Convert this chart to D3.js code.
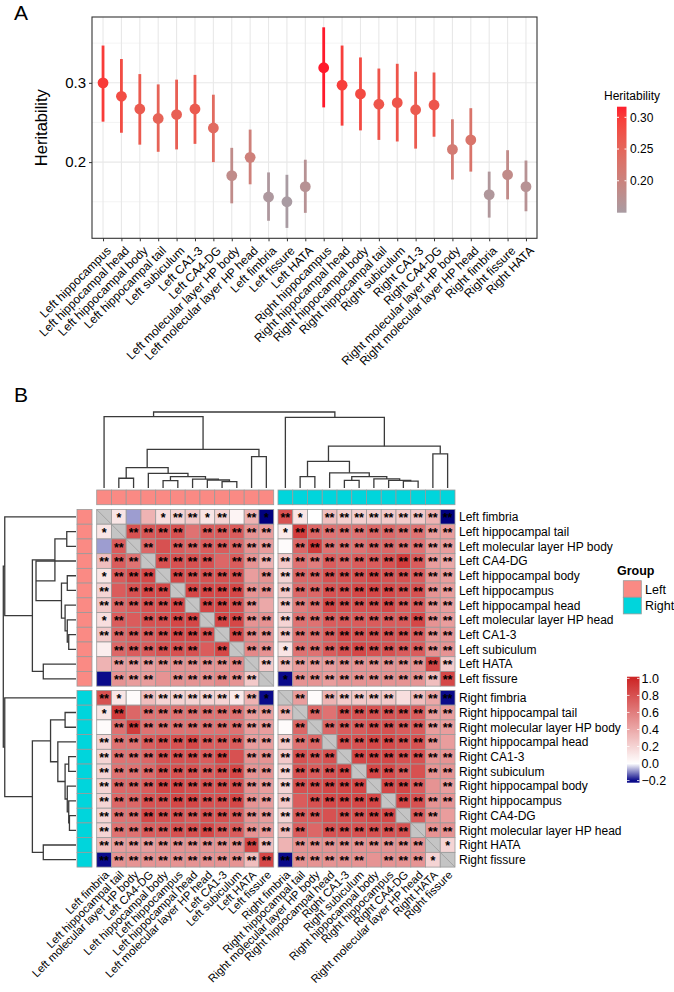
<!DOCTYPE html>
<html><head><meta charset="utf-8">
<script src="https://cdn.jsdelivr.net/npm/d3@7"></script>
<style>body{margin:0;background:#fff;} svg{font-family:Arial,"Liberation Sans",sans-serif;}</style>
</head><body><svg id="c" width="674" height="992"></svg>
<script>
// ---------------- Panel A data ----------------
const regions = ["Left hippocampus","Left hippocampal head","Left hippocampal body","Left hippocampal tail","Left subiculum","Left CA1-3","Left CA4-DG","Left molecular layer HP body","Left molecular layer HP head","Left fimbria","Left fissure","Left HATA","Right hippocampus","Right hippocampal head","Right hippocampal body","Right hippocampal tail","Right subiculum","Right CA1-3","Right CA4-DG","Right molecular layer HP body","Right molecular layer HP head","Right fimbria","Right fissure","Right HATA"];
const heritability = [0.300,0.283,0.267,0.255,0.260,0.267,0.243,0.183,0.206,0.156,0.150,0.169,0.319,0.297,0.286,0.273,0.275,0.266,0.272,0.216,0.228,0.159,0.184,0.169];
const ciLow  = [0.251,0.237,0.222,0.213,0.216,0.223,0.200,0.148,0.172,0.126,0.117,0.136,0.269,0.246,0.240,0.228,0.226,0.217,0.232,0.178,0.188,0.130,0.153,0.138];
const ciHigh = [0.347,0.330,0.311,0.298,0.304,0.310,0.285,0.218,0.241,0.187,0.184,0.203,0.370,0.347,0.332,0.318,0.324,0.314,0.313,0.254,0.268,0.188,0.215,0.202];
const yTicksA = [0.2,0.3];
const legendTicksA = [0.20,0.25,0.30];

// ---------------- Panel B data ----------------
const hmNames = ["Left fimbria","Left hippocampal tail","Left molecular layer HP body","Left CA4-DG","Left hippocampal body","Left hippocampus","Left hippocampal head","Left molecular layer HP head","Left CA1-3","Left subiculum","Left HATA","Left fissure","Right fimbria","Right hippocampal tail","Right molecular layer HP body","Right hippocampal head","Right CA1-3","Right subiculum","Right hippocampal body","Right hippocampus","Right CA4-DG","Right molecular layer HP head","Right HATA","Right fissure"];
const groups = ["Left","Right"];
const corr = [
[null,.12,-.08,.35,.15,.2,.25,.12,.2,.05,.35,-.22, .8,.12,0,.3,.22,.22,.22,.25,.25,.25,.35,-.22],
[.12,null,.8,.78,.8,.8,.65,.75,.75,.75,.5,.45, .1,.9,.7,.65,.65,.65,.7,.7,.65,.65,.45,.45],
[-.08,.75,null,.7,.8,.75,.7,.75,.75,.7,.5,.45, .02,.7,.9,.65,.65,.65,.7,.7,.65,.65,.45,.45],
[.3,.75,.65,null,.8,.8,.8,.8,.7,.75,.5,.35, .25,.65,.6,.75,.7,.75,.75,.8,.9,.75,.45,.4],
[.12,.75,.85,.85,null,.85,.8,.8,.8,.8,.45,.5, .2,.7,.7,.8,.8,.8,.85,.8,.8,.75,.5,.45],
[.2,.75,.8,.85,.85,null,.85,.85,.85,.85,.5,.5, .25,.7,.7,.8,.8,.85,.85,.85,.8,.8,.5,.45],
[.25,.7,.75,.8,.8,.85,null,.85,.85,.8,.5,.4, .25,.6,.65,.85,.8,.8,.8,.85,.75,.75,.5,.45],
[.15,.75,.75,.8,.8,.85,.85,null,.85,.85,.5,.5, .2,.65,.65,.75,.75,.75,.75,.75,.75,.85,.5,.45],
[.25,.7,.75,.75,.8,.85,.85,.8,null,.85,.55,.5, .25,.65,.65,.75,.85,.8,.8,.8,.8,.75,.5,.5],
[.08,.7,.75,.75,.8,.8,.8,.75,.85,null,.55,.5, .12,.65,.65,.75,.8,.85,.8,.8,.75,.75,.5,.5],
[.35,.45,.45,.45,.5,.5,.5,.5,.5,.55,null,.25, .3,.45,.45,.45,.5,.5,.5,.5,.5,.5,.85,.25],
[-.2,.5,.45,.45,.5,.5,.5,.5,.55,.5,.25,null, -.2,.5,.5,.45,.5,.5,.5,.5,.5,.5,.3,.85],
[.8,.12,.02,.3,.2,.2,.2,.2,.2,.1,.35,-.2, null,.45,.02,.35,.25,.25,.25,.25,.15,.3,.4,-.2],
[.12,.9,.7,.65,.65,.65,.65,.65,.65,.65,.45,.45, .35,null,.7,.65,.8,.8,.8,.8,.8,.75,.45,.45],
[.02,.65,.9,.65,.65,.65,.65,.65,.65,.65,.45,.45, .02,.7,null,.7,.75,.75,.8,.8,.75,.75,.45,.45],
[.2,.65,.65,.75,.8,.8,.85,.75,.75,.75,.45,.45, .25,.65,.7,null,.8,.8,.85,.85,.8,.8,.5,.45],
[.2,.65,.65,.7,.8,.8,.8,.75,.85,.8,.5,.5, .25,.8,.75,.8,null,.85,.85,.85,.8,.8,.5,.5],
[.2,.65,.65,.7,.8,.8,.8,.75,.8,.85,.5,.5, .2,.8,.75,.8,.85,null,.85,.85,.75,.8,.5,.5],
[.2,.7,.7,.75,.85,.85,.8,.8,.8,.8,.5,.45, .2,.8,.8,.85,.85,.85,null,.85,.85,.75,.5,.45],
[.2,.7,.7,.8,.8,.85,.85,.8,.8,.85,.5,.45, .25,.75,.8,.85,.85,.85,.85,null,.85,.8,.5,.5],
[.2,.65,.65,.85,.8,.8,.75,.8,.8,.75,.5,.45, .2,.75,.75,.8,.8,.8,.85,.85,null,.75,.5,.45],
[.2,.65,.65,.75,.75,.8,.8,.85,.75,.75,.5,.45, .3,.75,.7,.8,.8,.8,.8,.8,.8,null,.5,.5],
[.3,.45,.45,.45,.5,.5,.5,.5,.5,.5,.85,.3, .35,.5,.5,.5,.5,.5,.5,.5,.5,.5,null,.2],
[-.2,.5,.5,.5,.5,.5,.5,.5,.5,.5,.3,.85, -.2,.5,.5,.5,.5,.5,.5,.5,.5,.5,.2,null]
];
// significance: 2 = "**", 1 = "*", 0 = none, x = diagonal
const stars = [
"x10012212021210222222222","1x2222022222122222222222","02x202222222022222222222","222x22220222222222222222",
"1222x2222202222222222222","20222x222222222222222222","222222x22220222222222222","1202222x2222222222222222",
"22222222x222222222222222","022222202x22122222222222","0222222222x2222222222222","02220222222x122222222222",
"210222222121x20222220222","1202222222222x2022222222","02222222222202x222222222","222222222222222x22222220",
"2222222220222222x2222222","22222222222222222x222022","222222222222222222x22202","2222222222222022222x2222",
"22222222222222202222x220","222222222222220222222x22","2222222222220222222222x1","22222222222222222202221x"
];
// dendrograms: [height, left, right]; leaves are indices into hmNames
const colTree = [1.0,
  [0.938, 0, [0.509, [0.267, [0.128, 1, 2], [0.193, 3, [0.149, [0.096, 4, 5], [0.118, 6, [0.105, 7, [0.083, 8, 9]]]]]], [0.412, 10, 11]]],
  [0.93, 12, [0.55, [0.35, [0.15, 13, 14], [0.2, 15, [0.15, [0.1, 16, 17], [0.12, 18, [0.1, 19, [0.09, 20, 21]]]]]], [0.45, 22, 23]]]];
const rowTree = [1.0,
  [0.98, 0, [0.6, [0.29, [0.127, 1, 2], [0.55, 3, [0.2, [0.12, 4, 5], [0.15, 6, [0.12, 7, [0.1, 8, 9]]]]]], [0.45, 10, 11]]],
  [0.98, 12, [0.6, [0.35, [0.15, 13, 14], [0.25, 15, [0.15, [0.1, 16, 17], [0.12, 18, [0.1, 19, [0.09, 20, 21]]]]]], [0.45, 22, 23]]]];
const corrTicks = [-0.2,0,0.2,0.4,0.6,0.8,1.0];

// ---------------- drawing ----------------
const svg = d3.select("#c");
const txt = "#000";

// ===== Panel A =====
const A = {l:92, r:537, t:17, b:238.3};
const x = d3.scalePoint().domain(regions).range([A.l, A.r]).padding(0.6);
const y = d3.scaleLinear().domain([0.1039, 0.3830]).range([A.b, A.t]);
const colA = d3.scaleLinear().domain([d3.min(heritability), d3.max(heritability)])
  .range(["#A99BA2","#FF1A2C"]).interpolate(d3.interpolateLab);

svg.append("text").attr("x",14).attr("y",20).attr("font-size",21).text("A");
const gA = svg.append("g");
[0.15,0.25,0.35].forEach(v=>gA.append("line").attr("x1",A.l).attr("x2",A.r).attr("y1",y(v)).attr("y2",y(v)).attr("stroke","#EDEDED").attr("stroke-width",0.6));
yTicksA.forEach(v=>gA.append("line").attr("x1",A.l).attr("x2",A.r).attr("y1",y(v)).attr("y2",y(v)).attr("stroke","#E8E8E8").attr("stroke-width",1.1));
regions.forEach(r=>gA.append("line").attr("x1",x(r)).attr("x2",x(r)).attr("y1",A.t).attr("y2",A.b).attr("stroke","#E8E8E8").attr("stroke-width",1.1));
regions.forEach((r,i)=>{
  gA.append("line").attr("x1",x(r)).attr("x2",x(r)).attr("y1",y(ciLow[i])).attr("y2",y(ciHigh[i]))
    .attr("stroke",colA(heritability[i])).attr("stroke-width",2.8);
  gA.append("circle").attr("cx",x(r)).attr("cy",y(heritability[i])).attr("r",5.4).attr("fill",colA(heritability[i]));
});
gA.append("rect").attr("x",A.l).attr("y",A.t).attr("width",A.r-A.l).attr("height",A.b-A.t).attr("fill","none").attr("stroke","#333").attr("stroke-width",1.1);
const yAx = gA.append("g").attr("transform",`translate(${A.l},0)`)
  .call(d3.axisLeft(y).tickValues(yTicksA).tickFormat(d3.format(".1f")).tickSize(3).tickPadding(3));
yAx.select(".domain").remove();
yAx.selectAll("line").attr("stroke","#333");
yAx.selectAll("text").attr("font-size",15).attr("fill",txt).attr("font-family","Arial,'Liberation Sans',sans-serif");
const xAx = gA.append("g").attr("transform",`translate(0,${A.b})`)
  .call(d3.axisBottom(x).tickSize(3).tickPadding(0));
xAx.select(".domain").remove();
xAx.selectAll("line").attr("stroke","#333");
xAx.selectAll("text").attr("font-size",12).attr("fill",txt).attr("font-family","Arial,'Liberation Sans',sans-serif")
  .attr("text-anchor","end").attr("y",0)
  .attr("transform","translate(2,7) rotate(-45)").attr("dy","0.72em");
svg.append("text").attr("transform",`translate(47,${(A.t+A.b)/2}) rotate(-90)`).attr("text-anchor","middle")
  .attr("font-size",16.5).text("Heritability");
// legend A
svg.append("text").attr("x",604).attr("y",100).attr("font-size",12).text("Heritability");
const lgA = {x:617, w:9.5, t:106.7, b:212.7};
const lgScale = d3.scaleLinear().domain([0.1497,0.3167]).range([lgA.b, lgA.t]);
const defs = svg.append("defs");
const gradA = defs.append("linearGradient").attr("id","gA").attr("x1",0).attr("y1",1).attr("x2",0).attr("y2",0);
d3.range(0,1.001,0.1).forEach(t=>{
  const v = lgScale.domain()[0] + t*(lgScale.domain()[1]-lgScale.domain()[0]);
  gradA.append("stop").attr("offset",t).attr("stop-color",colA(v));
});
svg.append("rect").attr("x",lgA.x).attr("y",lgA.t).attr("width",lgA.w).attr("height",lgA.b-lgA.t).attr("fill","url(#gA)");
legendTicksA.forEach(v=>{
  svg.append("line").attr("x1",lgA.x).attr("x2",lgA.x+2).attr("y1",lgScale(v)).attr("y2",lgScale(v)).attr("stroke","#fff");
  svg.append("line").attr("x1",lgA.x+lgA.w-2).attr("x2",lgA.x+lgA.w).attr("y1",lgScale(v)).attr("y2",lgScale(v)).attr("stroke","#fff");
  svg.append("text").attr("x",lgA.x+lgA.w+3.5).attr("y",lgScale(v)).attr("dy","0.36em").attr("font-size",12).text(d3.format(".2f")(v));
});

// ===== Panel B =====
svg.append("text").attr("x",14).attr("y",402).attr("font-size",21).text("B");
const cw = 14.75, ch = 14.72, gap = 4.3;
const X0 = 96.7, Y0 = 509.5;
const band = d3.scaleBand().domain(d3.range(24)).range([0, 24*cw]);
const bandY = d3.scaleBand().domain(d3.range(24)).range([0, 24*ch]);
const cx = i => X0 + band(i) + (i>=12?gap:0);
const cy = i => Y0 + bandY(i) + (i>=12?gap:0);
const colB = d3.scaleLinear().domain([-0.2,0,1]).range(["#0A0A8A","#FFFFFF","#CD2626"]).interpolate(d3.interpolateRgb);
const grpCol = d3.scaleOrdinal().domain(groups).range(["#FA8A84","#00D5DC"]);
const grpOf = n => n.startsWith("Left") ? "Left" : "Right";

const gB = svg.append("g");
for (let r=0;r<24;r++){
  for (let c=0;c<24;c++){
    const s = stars[r][c];
    const v = corr[r][c];
    const X = cx(c), Y = cy(r);
    gB.append("rect").attr("x",X).attr("y",Y).attr("width",cw).attr("height",ch)
      .attr("fill", s==="x" ? "#C4C4C4" : colB(v)).attr("stroke","#9A9A9A").attr("stroke-width",0.8);
    if (s==="x"){
      gB.append("line").attr("x1",X).attr("y1",Y).attr("x2",X+cw).attr("y2",Y+ch).attr("stroke","#9A9A9A").attr("stroke-width",0.8);
    } else if (s!=="0"){
      gB.append("text").attr("x",X+cw/2).attr("y",Y+12.6).attr("text-anchor","middle")
        .attr("font-size",12.5).attr("font-weight","bold").attr("fill","#000").text(s==="2"?"**":"*");
    }
  }
}
hmNames.forEach((n,i)=>{
  gB.append("rect").attr("x",cx(i)).attr("y",490).attr("width",cw).attr("height",14.7)
    .attr("fill",grpCol(grpOf(n))).attr("stroke","#9A9A9A").attr("stroke-width",0.8);
  gB.append("rect").attr("x",77).attr("y",cy(i)).attr("width",15).attr("height",ch)
    .attr("fill",grpCol(grpOf(n))).attr("stroke","#9A9A9A").attr("stroke-width",0.8);
  gB.append("text").attr("x",459).attr("y",cy(i)+ch/2).attr("dy","0.36em").attr("font-size",12).text(n);
  gB.append("text").attr("transform",`translate(${cx(i)+cw/2},${870}) rotate(-45)`)
    .attr("text-anchor","end").attr("dy","0.7em").attr("font-size",11.3).text(n);
});
function drawTree(tree, posOf, hScale, horizontal){
  function rec(node){
    if (typeof node === "number") return {p: posOf(node), h: 0};
    const a = rec(node[1]), b = rec(node[2]);
    const h = node[0];
    const pts = [[a.p,a.h],[a.p,h],[b.p,h],[b.p,b.h]];
    const line = d3.line().x(d=>horizontal ? hScale(d[1]) : d[0]).y(d=>horizontal ? d[0] : hScale(d[1]));
    gB.append("path").attr("d",line(pts)).attr("fill","none").attr("stroke","#3A3A3A").attr("stroke-width",1.3);
    return {p:(a.p+b.p)/2, h:h};
  }
  rec(tree);
}
drawTree(colTree, i=>cx(i)+cw/2, d3.scaleLinear().domain([0,1]).range([488,412]), false);
drawTree(rowTree, i=>cy(i)+ch/2, d3.scaleLinear().domain([0,1]).range([76,3.3]), true);

svg.append("text").attr("x",617).attr("y",575).attr("font-size",12.5).attr("font-weight","bold").text("Group");
groups.forEach((g,i)=>{
  svg.append("rect").attr("x",623.3).attr("y",580.7+i*16.6).attr("width",18).attr("height",16.6)
    .attr("fill",grpCol(g)).attr("stroke","#9A9A9A").attr("stroke-width",0.8);
  svg.append("text").attr("x",645).attr("y",580.7+i*16.6+8.3).attr("dy","0.36em").attr("font-size",12.5).text(g);
});
const cb = {x:627, w:12.5, t:676.7, b:782.7};
const cbScale = d3.scaleLinear().domain([-0.225,1.02]).range([cb.b, cb.t]);
const gradB = defs.append("linearGradient").attr("id","gB").attr("x1",0).attr("y1",1).attr("x2",0).attr("y2",0);
d3.range(0,1.001,0.02).forEach(t=>{
  const v = cbScale.domain()[0] + t*(cbScale.domain()[1]-cbScale.domain()[0]);
  gradB.append("stop").attr("offset",t).attr("stop-color",colB(Math.max(-0.2,Math.min(1,v))));
});
svg.append("rect").attr("x",cb.x).attr("y",cb.t).attr("width",cb.w).attr("height",cb.b-cb.t).attr("fill","url(#gB)");
corrTicks.forEach(v=>{
  svg.append("line").attr("x1",cb.x).attr("x2",cb.x+2.5).attr("y1",cbScale(v)).attr("y2",cbScale(v)).attr("stroke","#fff").attr("stroke-width",0.8);
  svg.append("line").attr("x1",cb.x+cb.w-2.5).attr("x2",cb.x+cb.w).attr("y1",cbScale(v)).attr("y2",cbScale(v)).attr("stroke","#fff").attr("stroke-width",0.8);
  svg.append("text").attr("x",cb.x+cb.w+2).attr("y",cbScale(v)).attr("dy","0.36em").attr("font-size",12.5)
    .text(v===0?"0.0":v===1?"1.0":d3.format(".1f")(v).replace("-","\u2212"));
});
</script></body></html>
